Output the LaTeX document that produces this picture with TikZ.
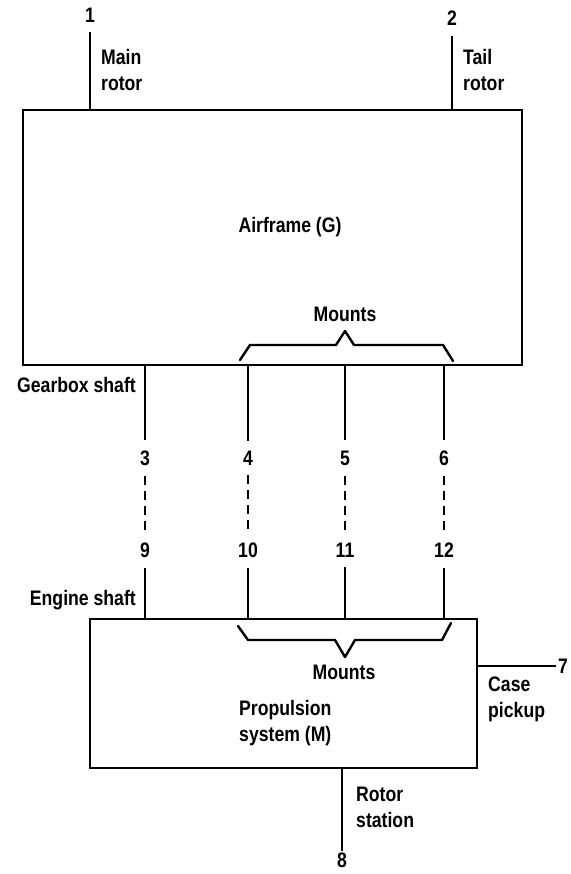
\documentclass[tikz,border=0pt]{standalone}
\usepackage{fontspec}
\setmainfont{Liberation Sans}[FakeStretch=0.84]
\begin{document}
\begin{tikzpicture}[x=1pt,y=-1pt,
  line width=2.4pt,
  lbl/.style={font=\bfseries\fontsize{21}{26}\selectfont, inner sep=0pt, align=left},
  num/.style={font=\bfseries\fontsize{21}{22}\selectfont, inner sep=9pt},
  numtight/.style={font=\bfseries\fontsize{21}{22}\selectfont, inner sep=1pt},
  sysbox/.style={draw, line width=2.4pt, minimum width=#1},
  link/.style={line width=2.4pt},
  dlink/.style={line width=2.4pt, dash pattern=on 9pt off 6pt},
  bracepath/.style={line width=2.4pt, line join=round, line cap=round}]
\useasboundingbox (0,0) rectangle (570,874);

% boxes
\node[sysbox=499pt, minimum height=255pt] (G) at (272.5,237.5) {};
\node[sysbox=387pt, minimum height=149pt] (M) at (283.5,693.5) {};
\node[lbl] (Gt) at (290,227) {Airframe (G)};

% top ports
\node[num] (n1) at (90,15) {1};
\node[num] (n2) at (452,18) {2};
\draw[link] (n1.south) -- (n1 |- G.north);
\draw[link] (n2.south) -- (n2 |- G.north);
\node[lbl, anchor=west] (mr) at (100,70) {Main\\rotor};
\node[lbl, anchor=west] (tr) at (462,70) {Tail\\rotor};

% upper mounts brace
\node[lbl] (mu) at (345,314) {Mounts};
\draw[bracepath] (240,360) -- (250,345) -- (336,345) -- (345,331) -- (354,345) -- (443,345) -- (453,361);

% interface numbers
\node[num] (n3) at (145,458) {3};
\node[num] (n4) at (248,458) {4};
\node[num] (n5) at (345,458) {5};
\node[num] (n6) at (444,458) {6};
\node[num] (n9) at (145,550) {9};
\node[num] (n10) at (248,550) {10};
\node[num] (n11) at (345,550) {11};
\node[num] (n12) at (444,550) {12};

\foreach \a/\b in {n3/n9,n4/n10,n5/n11,n6/n12}{
  \draw[link] (G.south -| \a) -- (\a.north);
  \draw[dlink] (\a.south) -- (\b.north);
  \draw[link] (\b.south) -- (\b |- M.north);
}

\node[lbl, anchor=east] (gs) at (137,385) {Gearbox shaft};
\node[lbl, anchor=east] (es) at (137,600) {Engine shaft};

% lower mounts brace
\draw[bracepath] (238,626) -- (248,640) -- (335,640) -- (345,657) -- (355,640) -- (442,640) -- (451,623);
\node[lbl] (ml) at (344,672) {Mounts};
\node[lbl, anchor=west] (pt) at (238,723) {Propulsion\\system (M)};

% case pickup
\node[numtight] (n7) at (563,666) {7};
\draw[link] (M.east |- n7) -- (n7.west);
\node[lbl, anchor=west] (cp) at (487,699) {Case\\pickup};

% rotor station
\node[numtight, anchor=north] (n8) at (342,851) {8};
\draw[link] (n8 |- M.south) -- (n8.north);
\node[lbl, anchor=west] (rs) at (355,807) {Rotor\\station};
\end{tikzpicture}
\end{document}
